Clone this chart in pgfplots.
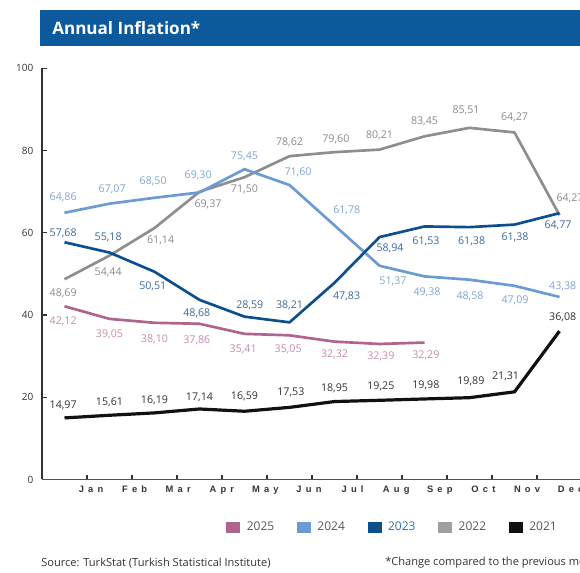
\documentclass[border=0pt]{standalone}
\usepackage{pgfplots}
\usepackage{pgfplotstable}
\pgfplotsset{compat=1.18}
\usepackage{fontspec}
\setmainfont{Open Sans}
\newfontfamily\tickfont[LetterSpace=45]{Liberation Sans}

\definecolor{c25}{HTML}{B0638F}
\definecolor{c25lab}{HTML}{C68AAC}
\definecolor{c24}{HTML}{6B9BD2}
\definecolor{c24lab}{HTML}{7FA5D0}
\definecolor{c23}{HTML}{0D4F8E}
\definecolor{c23lab}{HTML}{3B6A9A}
\definecolor{c22}{HTML}{8E8E8E}
\definecolor{c22lab}{HTML}{8A8A8A}
\definecolor{c21}{HTML}{111111}
\definecolor{c21lab}{HTML}{333333}
\definecolor{titlebg}{HTML}{0C5A9C}
\definecolor{axisc}{HTML}{333333}
\definecolor{legtxt}{HTML}{555555}
\definecolor{leg23}{HTML}{2F6DB0}

\newcommand\labfont{\fontsize{8}{9}\selectfont}

% year 2025 .. 2021, labels as printed on the chart
\pgfplotstableread{
x y dx dy lab
0 42.12 -1 -11.6 42,12
1 39.05 0 -11.4 39,05
2 38.10 0 -12.2 38,10
3 37.86 -2 -12.2 37,86
4 35.41 -1 -11.4 35,41
5 35.05 -1 -10.3 35,05
6 33.52 0 -9.7 32,32
7 32.95 1 -9.5 32,39
8 33.29 1 -9.9 32,29
}\tabA
\pgfplotstableread{
x y dx dy lab
0 64.86 -1 11.5 64,86
1 67.07 2 10.5 67,07
2 68.50 -1 12.3 68,50
3 69.80 -1 12.6 69,30
4 75.45 0 9.6 75,45
5 71.60 6.4 9.3 71,60
6 61.78 9.2 11 61,78
7 51.97 10.1 -11.6 51,37
8 49.38 1.9 -12.3 49,38
9 48.58 0.4 -12.1 48,58
10 47.09 0.4 -10.7 47,09
11 44.38 2.4 8.2 43,38
}\tabB
\pgfplotstableread{
x y dx dy lab
0 57.68 -1 7 57,68
1 55.18 -1 11.8 55,18
2 50.51 -1.3 -10.8 50,51
3 43.68 -2 -10.1 48,68
4 39.59 4 8.7 28,59
5 38.21 0 13 38,21
6 47.83 9.1 -10.5 47,83
7 58.94 7.9 -8.5 58,94
8 61.53 1.1 -11.5 61,53
9 61.36 1.6 -10.3 61,38
10 61.98 0.4 -9.6 61,38
11 64.77 -1.1 -9 64,77
}\tabC
\pgfplotstableread{
x y dx dy lab
0 48.69 -1 -10.6 48,69
1 54.44 -1 -12.6 54,44
2 61.14 4.6 -9.5 61,14
3 69.97 6.4 -9.5 69,37
4 73.50 0 -9.2 71,50
5 78.62 0 10.7 78,62
6 79.60 1 9.8 79,60
7 80.21 0 10.8 80,21
8 83.45 0 11.3 83,45
9 85.51 -2.6 13.2 85,51
10 84.39 0 11.6 64,27
11 64.27 7.9 12.8 64,27
}\tabD
\pgfplotstableread{
x y dx dy lab
0 14.97 -1 9.7 14,97
1 15.61 0 9.5 15,61
2 16.19 0 9.7 16,19
3 17.14 0 8.8 17,14
4 16.59 0 10.9 16,59
5 17.53 1 11 17,53
6 18.95 0 9.9 18,95
7 19.25 1 10.7 19,25
8 19.58 1 10.4 19,98
9 19.89 1 11.9 19,89
10 21.31 -6.7 11.3 21,31
11 36.08 2.4 10.7 36,08
}\tabE

\pgfplotsset{
  series/.style 2 args={line width=2pt, color=#1, mark=none, line join=round,
    forget plot, point meta=explicit symbolic,
    nodes near coords={\pgfplotspointmeta},
    visualization depends on={\thisrow{dx}\as\labdx},
    visualization depends on={\thisrow{dy}\as\labdy},
    every node near coord/.append style={font=\labfont, text=#2, anchor=center,
      inner sep=0pt, xshift=\labdx pt, yshift=\labdy pt}},
  sq/.style={legend image code/.code={\fill[#1] (0pt,-3.75pt) rectangle (9.75pt,3.75pt);}},
}

\begin{document}
\begin{tikzpicture}
\begin{axis}[
  scale only axis, width=405pt, height=308.4pt,
  xmin=-0.5, xmax=11.5, ymin=0, ymax=100,
  axis lines=left,
  x axis line style={-, draw=axisc!85, line width=1.1pt},
  y axis line style={-, draw=axisc, line width=1.5pt},
  tick align=inside, major tick length=3.5pt,
  tick style={draw=axisc, line width=1pt},
  ytick={0,20,40,60,80,100},
  yticklabel style={font=\fontsize{7.5}{8}\selectfont, text=axisc, xshift=-3pt},
  /pgf/number format/assume math mode=true,
  xtick={0.5,1.5,2.5,3.5,4.5,5.5,6.5,7.5,8.5,9.5,10.5},
  xticklabels={},
  extra x ticks={0.589,1.558,2.527,3.496,4.464,5.433,6.402,7.371,8.340,9.309,10.278,11.247},
  extra x tick labels={Jan,Feb,Mar,Apr,May,Jun,Jul,Aug,Sep,Oct,Nov,Dec},
  extra x tick style={major tick length=0pt,
    xticklabel style={font=\tickfont\bfseries\fontsize{7}{8}\selectfont, text=axisc, yshift=-1.5pt}},
  clip=false,
  legend columns=5,
  legend style={at={(0.3407,-0.1155)}, anchor=west, draw=none, fill=none, inner sep=0pt,
    font=\fontsize{9}{10}\selectfont,
    nodes={inner sep=0pt},
    /tikz/every odd column/.style={column sep=5.25pt},
    /tikz/every even column/.style={column sep=17pt}},
]
\addplot[series={c22}{c22lab}] table[x=x, y=y, meta=lab] {\tabD};
\addplot[series={c24}{c24lab}] table[x=x, y=y, meta=lab] {\tabB};
\addplot[series={c23}{c23lab}] table[x=x, y=y, meta=lab] {\tabC};
\addplot[series={c25}{c25lab}] table[x=x, y=y, meta=lab] {\tabA};
\addplot[series={c21}{c21lab}, line width=2.4pt] table[x=x, y=y, meta=lab] {\tabE};

\addlegendimage{sq=c25}
\addlegendentry{\textcolor{legtxt}{2025}}
\addlegendimage{sq=c24}
\addlegendentry{\textcolor{legtxt}{2024}}
\addlegendimage{sq=c23}
\addlegendentry{\textcolor{leg23}{2023}}
\addlegendimage{sq=c22!85}
\addlegendentry{\textcolor{legtxt}{2022}}
\addlegendimage{sq=c21}
\addlegendentry{\textcolor{legtxt}{2021}}
\end{axis}

\fill[titlebg] (-1.5pt,325.1pt) rectangle (420pt,352.1pt);
\node[anchor=west, inner sep=0pt, text=white, font=\bfseries\fontsize{12.8}{14}\selectfont]
  at (7.5pt,338.6pt) {Annual Inflation*};
\node[anchor=west, inner sep=0pt, text=axisc, font=\fontsize{8.3}{9}\selectfont]
  at (-0.75pt,-62.6pt) {Source: TurkStat (Turkish Statistical Institute)};
\node[anchor=west, inner sep=0pt, text=axisc, font=\fontsize{8.3}{9}\selectfont]
  at (257.25pt,-62.6pt) {*Change compared to the previous month};

\pgfresetboundingbox
\path[use as bounding box] (-31.5pt,-70.1pt) rectangle (403.5pt,359.6pt);
\end{tikzpicture}
\end{document}
